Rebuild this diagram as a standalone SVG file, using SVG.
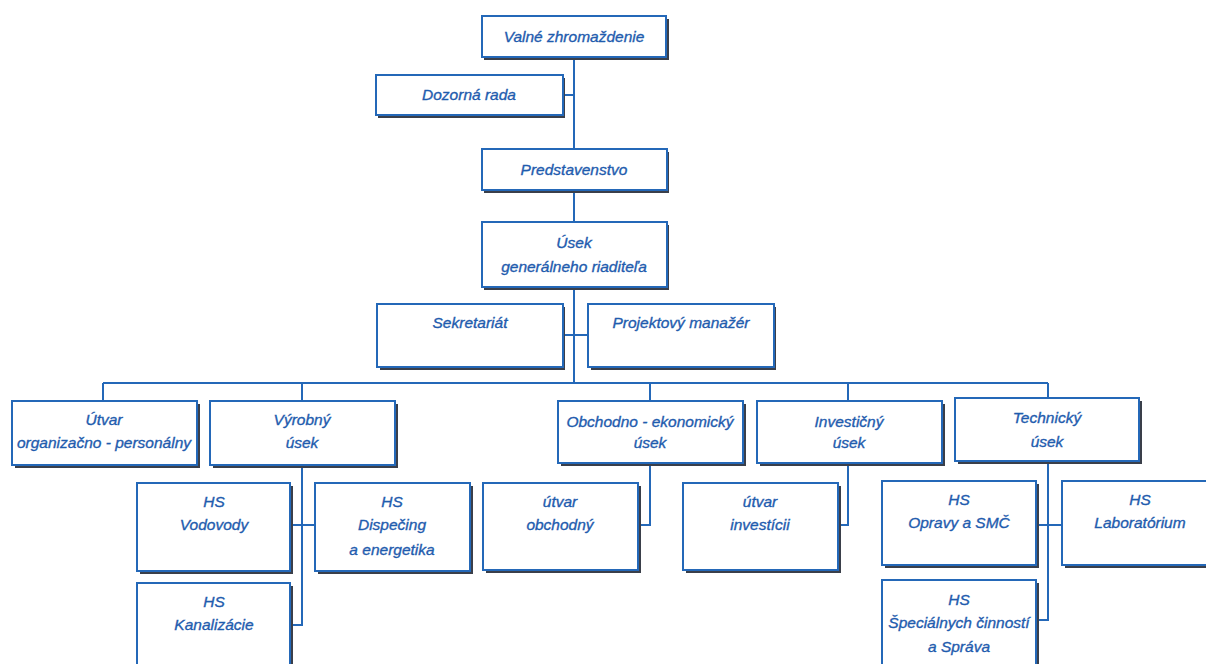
<svg xmlns="http://www.w3.org/2000/svg" width="1206" height="664" viewBox="0 0 1206 664">
<defs>
<style>
.bx{fill:#fff;stroke:#2468b8;stroke-width:2}
.sh{fill:#3a3f4a}
.t{font-family:"Liberation Sans",Arial,sans-serif;font-style:italic;font-weight:normal;font-size:15.5px;fill:#1f5cae;stroke:#1f5cae;stroke-width:0.35;text-anchor:middle}
.c{fill:none;stroke:#2468b8;stroke-width:2}
</style>
</defs>
<rect width="1206" height="664" fill="#fff"/>
<g id="connectors">
<path class="c" d="M574,57 V149 M563,95 H574 M574,190 V222 M574,287 V383 M563,335 H588 M103,383 H1048 M103,383 V401 M302,383 V401 M650,383 V401 M848,383 V401 M1048,383 V398"/>
<path class="c" d="M302,465 V625 H290 M290,525 H315 M650,463 V525 H638 M848,463 V525 H838 M1048,461 V620 H1036 M1036,525 H1062"/>
</g>
<g id="n-valne"><rect class="sh" x="484" y="19" width="185" height="41"/><rect class="bx" x="482" y="16" width="184" height="41"/><text class="t" x="574" y="42">Valné zhromaždenie</text></g>
<g id="n-dozorna"><rect class="sh" x="378" y="78" width="187" height="40"/><rect class="bx" x="376" y="75" width="187" height="40"/><text class="t" x="469" y="100">Dozorná rada</text></g>
<g id="n-predstavenstvo"><rect class="sh" x="484" y="152" width="185" height="41"/><rect class="bx" x="482" y="149" width="185" height="41"/><text class="t" x="574" y="175">Predstavenstvo</text></g>
<g id="n-usek-gr"><rect class="sh" x="484" y="225" width="185" height="65"/><rect class="bx" x="482" y="222" width="185" height="65"/><text class="t" x="574" y="248">Úsek</text><text class="t" x="574" y="272">generálneho riaditeľa</text></g>
<g id="n-sekretariat"><rect class="sh" x="380" y="307" width="185" height="63"/><rect class="bx" x="377" y="304" width="186" height="63"/><text class="t" x="470" y="328">Sekretariát</text></g>
<g id="n-projektovy"><rect class="sh" x="591" y="307" width="185" height="63"/><rect class="bx" x="588" y="304" width="186" height="63"/><text class="t" x="681" y="328">Projektový manažér</text></g>
<g id="n-utvar-op"><rect class="sh" x="15" y="404" width="185" height="64"/><rect class="bx" x="12" y="401" width="185" height="64"/><text class="t" x="104" y="425">Útvar</text><text class="t" x="104" y="448">organizačno - personálny</text></g>
<g id="n-vyrobny"><rect class="sh" x="213" y="404" width="185" height="64"/><rect class="bx" x="210" y="401" width="185" height="64"/><text class="t" x="302" y="425">Výrobný</text><text class="t" x="302" y="448">úsek</text></g>
<g id="n-obchodno"><rect class="sh" x="561" y="404" width="185" height="62"/><rect class="bx" x="558" y="401" width="185" height="62"/><text class="t" x="650" y="427">Obchodno - ekonomický</text><text class="t" x="650" y="448">úsek</text></g>
<g id="n-investicny"><rect class="sh" x="760" y="404" width="185" height="62"/><rect class="bx" x="757" y="401" width="185" height="62"/><text class="t" x="849" y="427">Investičný</text><text class="t" x="849" y="448">úsek</text></g>
<g id="n-technicky"><rect class="sh" x="958" y="401" width="184" height="63"/><rect class="bx" x="955" y="398" width="184" height="63"/><text class="t" x="1047" y="423">Technický</text><text class="t" x="1047" y="447">úsek</text></g>
<g id="n-vodovody"><rect class="sh" x="140" y="486" width="153" height="88"/><rect class="bx" x="137" y="483" width="153" height="88"/><text class="t" x="214" y="507">HS</text><text class="t" x="214" y="530">Vodovody</text></g>
<g id="n-dispecing"><rect class="sh" x="318" y="486" width="155" height="88"/><rect class="bx" x="315" y="483" width="155" height="88"/><text class="t" x="392" y="507">HS</text><text class="t" x="392" y="530">Dispečing</text><text class="t" x="392" y="555">a energetika</text></g>
<g id="n-kanalizacie"><rect class="sh" x="140" y="586" width="153" height="90"/><rect class="bx" x="137" y="583" width="153" height="90"/><text class="t" x="214" y="607">HS</text><text class="t" x="214" y="630">Kanalizácie</text></g>
<g id="n-obchodny"><rect class="sh" x="486" y="486" width="155" height="87"/><rect class="bx" x="483" y="483" width="155" height="87"/><text class="t" x="560" y="507">útvar</text><text class="t" x="560" y="530">obchodný</text></g>
<g id="n-investicii"><rect class="sh" x="686" y="486" width="155" height="87"/><rect class="bx" x="683" y="483" width="155" height="87"/><text class="t" x="760" y="507">útvar</text><text class="t" x="760" y="530">investícii</text></g>
<g id="n-opravy"><rect class="sh" x="885" y="484" width="154" height="84"/><rect class="bx" x="882" y="481" width="154" height="84"/><text class="t" x="959" y="505">HS</text><text class="t" x="959" y="528">Opravy a SMČ</text></g>
<g id="n-laboratorium"><rect class="sh" x="1065" y="484" width="154" height="84"/><rect class="bx" x="1062" y="481" width="154" height="84"/><text class="t" x="1140" y="505">HS</text><text class="t" x="1140" y="528">Laboratórium</text></g>
<g id="n-specialnych"><rect class="sh" x="885" y="583" width="154" height="90"/><rect class="bx" x="882" y="580" width="154" height="90"/><text class="t" x="959" y="605">HS</text><text class="t" x="959" y="628">Špeciálnych činností</text><text class="t" x="959" y="652">a Správa</text></g>
</svg>
